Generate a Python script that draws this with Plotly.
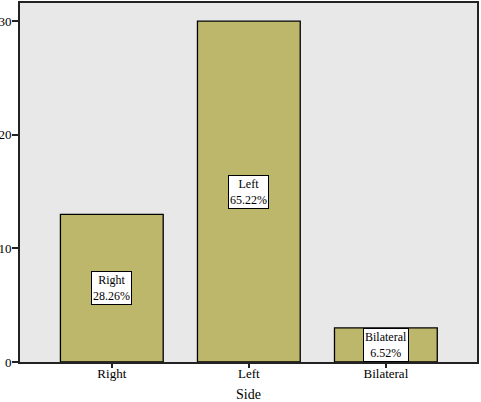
import plotly.graph_objects as go

sides = ["Right", "Left", "Bilateral"]
counts = [13, 30, 3]
y_ticks = [0, 10, 20, 30]

total = sum(counts)
pct = [c / total * 100 for c in counts]

fig = go.Figure()
fig.add_trace(go.Bar(
    x=sides,
    y=counts,
    width=0.75,
    marker=dict(color="#BDB76B", line=dict(color="black", width=1.3)),
    hoverinfo="skip",
))

# labels in white boxes at the middle of each bar
for s, c, p in zip(sides, counts, pct):
    fig.add_annotation(
        x=s, y=c / 2,
        text=f"{s}<br>{p:.2f}%",
        showarrow=False,
        bgcolor="white",
        bordercolor="black",
        borderwidth=1,
        borderpad=1,
        font=dict(size=12, color="black"),
    )

fig.update_layout(
    width=481, height=402,
    margin=dict(l=20, r=4, t=3, b=40),
    paper_bgcolor="white",
    plot_bgcolor="#E8E8E8",
    font=dict(family="Liberation Serif, Times New Roman, serif", size=13, color="black"),
    showlegend=False,
)
fig.update_xaxes(
    range=[-0.67, 2.665],
    automargin=False,
    showline=True, mirror=True, linecolor="#222", linewidth=1.8,
    ticks="outside", ticklen=4, tickwidth=1.5, tickcolor="#222",
    ticklabelstandoff=-6,
    showgrid=False,
    title=dict(text="Side", standoff=13, font=dict(size=14)),
)
fig.update_yaxes(
    range=[0, 31.6],
    automargin=False,
    tickvals=y_ticks,
    showline=True, mirror=True, linecolor="#222", linewidth=1.8,
    ticks="outside", ticklen=6, tickwidth=1.5, tickcolor="#222",
    ticklabelstandoff=-2,
    showgrid=False, zeroline=False,
)

# drop the default page margin so the figure sits at the window's corner
fig.write_html("out.html", config={"displayModeBar": False},
               post_script="document.body.style.margin='0';document.body.style.overflow='hidden';")
